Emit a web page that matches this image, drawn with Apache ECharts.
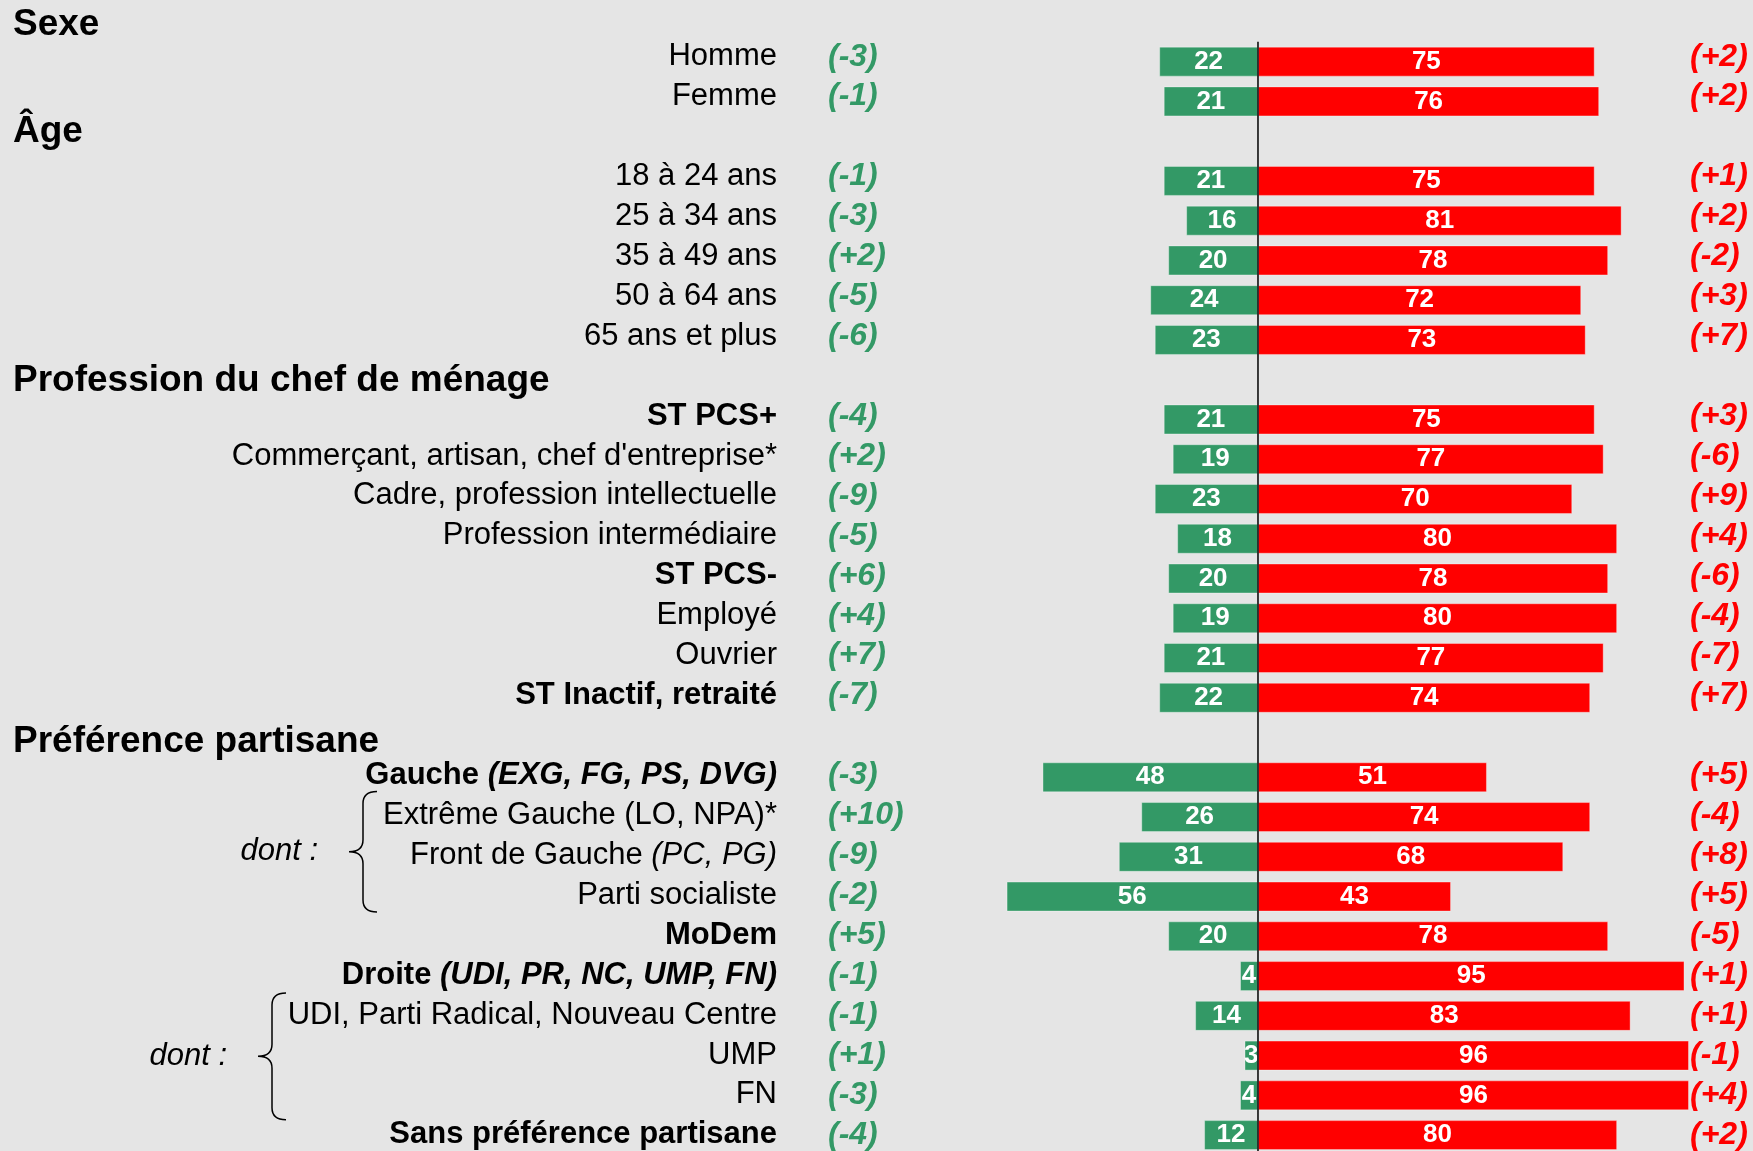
<!DOCTYPE html>
<html>
<head>
<meta charset="utf-8">
<script src="https://cdn.jsdelivr.net/npm/echarts@6/dist/echarts.min.js"></script>
<style>
  html, body { margin: 0; padding: 0; background: #e5e5e5; }
  #chart { width: 1753px; height: 1151px; }
</style>
</head>
<body>
<div id="chart"></div>
<script>
const categories = [
  'Sexe', 'Homme', 'Femme',
  'Âge', '18 à 24 ans', '25 à 34 ans', '35 à 49 ans', '50 à 64 ans', '65 ans et plus',
  'Profession du chef de ménage', 'ST PCS+', "Commerçant, artisan, chef d'entreprise*",
  'Cadre, profession intellectuelle', 'Profession intermédiaire', 'ST PCS-', 'Employé', 'Ouvrier',
  'ST Inactif, retraité',
  'Préférence partisane', 'Gauche (EXG, FG, PS, DVG)', 'Extrême Gauche (LO, NPA)*',
  'Front de Gauche (PC, PG)', 'Parti socialiste', 'MoDem', 'Droite (UDI, PR, NC, UMP, FN)',
  'UDI, Parti Radical, Nouveau Centre', 'UMP', 'FN', 'Sans préférence partisane',
]
const headers = ['Sexe', 'Âge', 'Profession du chef de ménage', 'Préférence partisane']
const boldRows = ['ST PCS+', 'ST PCS-', 'ST Inactif, retraité', 'MoDem', 'Sans préférence partisane']
const greenValues = [null, 22, 21, null, 21, 16, 20, 24, 23, null, 21, 19, 23, 18, 20, 19, 21, 22,
  null, 48, 26, 31, 56, 20, 4, 14, 3, 4, 12]
const redValues = [null, 75, 76, null, 75, 81, 78, 72, 73, null, 75, 77, 70, 80, 78, 80, 77, 74,
  null, 51, 74, 68, 43, 78, 95, 83, 96, 96, 80]
const greenChanges = [null, -3, -1, null, -1, -3, 2, -5, -6, null, -4, 2, -9, -5, 6, 4, 7, -7,
  null, -3, 10, -9, -2, 5, -1, -1, 1, -3, -4]
const redChanges = [null, 2, 2, null, 1, 2, -2, 3, 7, null, 3, -6, 9, 4, -6, -4, -7, 7,
  null, 5, -4, 8, 5, -5, 1, 1, -1, 4, 2]
// sous-groupes "dont :"
const braceGroups = [
  ['Extrême Gauche (LO, NPA)*', 'Parti socialiste'],
  ['UDI, Parti Radical, Nouveau Centre', 'FN'],
]

const GREEN = '#339966'
const RED = '#ff0000'
const FONT = '"Liberation Sans", Arial, sans-serif'
// position des accolades : x en px, débords haut/bas en fraction de ligne
const braceLayout = [
  { x: 363, top: 0.6, bottom: 0.42 },
  { x: 272, top: 0.55, bottom: 0.62 },
]
// petits décalages verticaux des titres (px, + = vers le bas)
const headerNudge = [3, -9, 1, 4]

const mixedLabels = {
  'Gauche (EXG, FG, PS, DVG)': '{b|Gauche }{bi|(EXG, FG, PS, DVG)}',
  'Front de Gauche (PC, PG)': '{r|Front de Gauche }{i|(PC, PG)}',
  'Droite (UDI, PR, NC, UMP, FN)': '{b|Droite }{bi|(UDI, PR, NC, UMP, FN)}',
}

function fmtChange(v) {
  if (v == null) return ''
  return '(' + (v > 0 ? '+' : '') + v + ')'
}

const headerRich = {}
headerNudge.forEach((n, i) => {
  headerRich['h' + i] = {
    width: 764,
    align: 'left',
    fontFamily: FONT,
    fontSize: 37,
    fontWeight: 'bold',
    color: '#000',
    padding: n > 0 ? [2 * n, 0, 0, 0] : [0, 0, -2 * n, 0],
  }
})

const baseAxis = {
  type: 'category',
  inverse: true,
  data: categories,
  axisLine: { show: false },
  axisTick: { show: false },
  splitLine: { show: false },
}

const changeLabel = {
  interval: 0,
  fontFamily: FONT,
  fontSize: 32,
  fontWeight: 'bold',
  fontStyle: 'italic',
}

const valueLabel = {
  show: true,
  position: 'inside',
  color: '#fff',
  fontFamily: FONT,
  fontSize: 26,
  fontWeight: 'bold',
}

const option = {
  backgroundColor: '#e5e5e5',
  animation: false,
  // grid 0 : barres, grid 1 : textes (pas légèrement plus grand, comme dans le tableau d'origine)
  grid: [
    { left: 988.6, right: 64, top: 2, height: 1153, outerBoundsMode: 'none', containLabel: false },
    { left: 988.6, right: 64, top: -3.2, height: 1158, outerBoundsMode: 'none', containLabel: false },
  ],
  xAxis: [
    { type: 'value', gridIndex: 0, min: -60, max: 96, show: false },
    { type: 'value', gridIndex: 1, min: -60, max: 96, show: false },
  ],
  yAxis: [
    {
      ...baseAxis,
      gridIndex: 0,
      position: 'left',
      axisLabel: { show: false },
    },
    {
      // titres de rubrique, calés à gauche
      ...baseAxis,
      gridIndex: 0,
      position: 'left',
      axisLabel: {
        interval: 0,
        margin: 211.6,
        align: 'right',
        formatter: (v) => {
          const k = headers.indexOf(v)
          return k < 0 ? '' : '{h' + k + '|' + v + '}'
        },
        rich: headerRich,
      },
    },
    {
      ...baseAxis,
      gridIndex: 1,
      position: 'left',
      axisLabel: {
        interval: 0,
        margin: 211.6,
        align: 'right',
        fontFamily: FONT,
        fontSize: 31,
        color: '#000',
        formatter: (v) => {
          if (headers.includes(v)) return ''
          if (mixedLabels[v]) return mixedLabels[v]
          if (boldRows.includes(v)) return '{b|' + v + '}'
          return '{r|' + v + '}'
        },
        rich: {
          r: { fontFamily: FONT, fontSize: 31, color: '#000' },
          i: { fontFamily: FONT, fontSize: 31, fontStyle: 'italic', color: '#000' },
          b: { fontFamily: FONT, fontSize: 31, fontWeight: 'bold', color: '#000' },
          bi: { fontFamily: FONT, fontSize: 31, fontWeight: 'bold', fontStyle: 'italic', color: '#000' },
        },
      },
    },
    {
      ...baseAxis,
      gridIndex: 1,
      position: 'left',
      axisLabel: {
        interval: 0,
        margin: 80.6,
        align: 'right',
        formatter: (v, i) => (greenChanges[i] == null ? '' : '{c|' + fmtChange(greenChanges[i]) + '}'),
        rich: {
          c: { ...changeLabel, width: 80, align: 'left', color: GREEN },
        },
      },
    },
    {
      ...baseAxis,
      gridIndex: 1,
      position: 'right',
      axisLabel: {
        ...changeLabel,
        margin: 1,
        align: 'left',
        color: RED,
        formatter: (v, i) => fmtChange(redChanges[i]),
      },
    },
  ],
  series: [
    {
      name: 'green',
      type: 'bar',
      stack: 'total',
      barWidth: 30,
      itemStyle: {
        color: GREEN,
        borderColor: 'rgba(255, 255, 255, 0.35)',
        borderWidth: 1,
      },
      label: {
        ...valueLabel,
        formatter: (p) => Math.abs(p.value),
      },
      data: greenValues.map((v) => (v == null ? null : -v)),
    },
    {
      name: 'red',
      type: 'bar',
      stack: 'total',
      barWidth: 30,
      itemStyle: {
        color: RED,
        borderColor: 'rgba(255, 255, 255, 0.35)',
        borderWidth: 1,
      },
      label: valueLabel,
      data: redValues,
    },
    {
      // ligne du zéro
      type: 'custom',
      z: 5,
      encode: { x: 0, y: 1 },
      data: [[0, 1, categories.length - 1]],
      renderItem: (params, api) => {
        const band = api.size([0, 1])[1]
        const top = api.coord([0, api.value(1)])
        const bottom = api.coord([0, api.value(2)])
        return {
          type: 'line',
          shape: { x1: top[0], y1: top[1] - band / 2, x2: bottom[0], y2: bottom[1] + band / 2 },
          style: { stroke: '#000', lineWidth: 1.5 },
        }
      },
    },
    {
      // accolades "dont :"
      type: 'custom',
      z: 5,
      xAxisIndex: 1,
      yAxisIndex: 2,
      encode: { x: 0, y: 1 },
      data: braceGroups.map((g) => [0, categories.indexOf(g[0]), categories.indexOf(g[1])]),
      renderItem: (params, api) => {
        const lay = braceLayout[params.dataIndex]
        const band = api.size([0, 1])[1]
        const yTop = api.coord([0, api.value(1)])[1] - band * lay.top
        const yBot = api.coord([0, api.value(2)])[1] + band * lay.bottom
        const yMid = (yTop + yBot) / 2
        const xs = lay.x
        const xt = xs - 14
        const xh = xs + 14
        const r = 12
        const d = [
          'M', xh, yTop,
          'Q', xs, yTop, xs, yTop + r,
          'L', xs, yMid - r,
          'Q', xs, yMid, xt, yMid,
          'Q', xs, yMid, xs, yMid + r,
          'L', xs, yBot - r,
          'Q', xs, yBot, xh, yBot,
        ].join(' ')
        return {
          type: 'group',
          children: [
            {
              type: 'path',
              shape: { pathData: d },
              style: { fill: null, stroke: '#000', lineWidth: 1.5 },
            },
            {
              type: 'text',
              style: {
                x: xt - 31,
                y: yMid,
                text: 'dont :',
                align: 'right',
                verticalAlign: 'middle',
                font: 'italic 31px ' + FONT,
                fill: '#000',
              },
            },
          ],
        }
      },
    },
  ],
}

const chart = echarts.init(document.getElementById('chart'))
chart.setOption(option)
window.addEventListener('resize', () => chart.resize())
</script>
</body>
</html>
